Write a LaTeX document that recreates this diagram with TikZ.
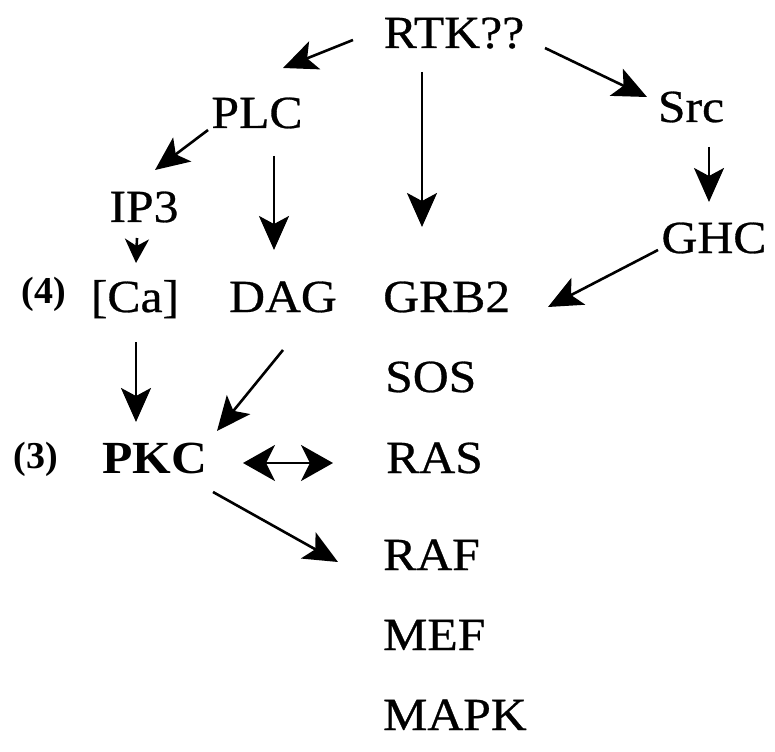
\documentclass[tikz,border=0pt]{standalone}
\usepackage{fontspec}
\usepackage{graphicx}
\setmainfont{Liberation Serif}
\newfontfamily\heavyfont{Liberation Serif}[FakeBold=0.6]
\usetikzlibrary{arrows.meta}
\newcommand\wide[1]{\scalebox{1.08}[1]{#1}}
\tikzset{
  lbl/.style={inner sep=0pt, font=\fontsize{46}{50}\heavyfont},
  num/.style={inner sep=0pt, font=\fontsize{38}{42}\selectfont\bfseries},
  arr/.style={line width=2.6pt, -{Stealth[length=34pt,width=30pt,inset=8pt]}},
  sarr/.style={line width=2.6pt, -{Stealth[length=24pt,width=24pt,inset=7pt]}},
  darr/.style={line width=2.6pt, {Stealth[length=32pt,width=36pt,inset=9pt]}-{Stealth[length=32pt,width=36pt,inset=9pt]}}
}
\begin{document}
\begin{tikzpicture}[x=1pt,y=-1pt]
\useasboundingbox (0,0) rectangle (775,751);
% nodes
\node[lbl,anchor=base] (RTK) at (454,48) {\wide{RTK??}};
\node[lbl,anchor=base] (PLC) at (257,128) {\wide{PLC}};
\node[lbl,anchor=base] (Src) at (691,122) {\wide{Src}};
\node[lbl,anchor=base] (IP3) at (144,222) {\wide{IP3}};
\node[lbl,anchor=base] (GHC) at (714,253) {\wide{GHC}};
\node[num,anchor=base] (n4) at (44,303) {(4)};
\node[lbl,anchor=base] (Ca) at (135,312) {\wide{[Ca]}};
\node[lbl,anchor=base] (DAG) at (283,312) {\wide{DAG}};
\node[lbl,anchor=base west] (GRB2) at (383,312) {\wide{GRB2}};
\node[lbl,anchor=base west] (SOS) at (385,392) {\wide{SOS}};
\node[num,anchor=base] (n3) at (36,468) {(3)};
\node[lbl,anchor=base] (PKC) at (155,473) {\wide{\fontsize{46}{50}\selectfont\rmfamily\bfseries PKC}};
\node[lbl,anchor=base west] (RAS) at (386,473) {\wide{RAS}};
\node[lbl,anchor=base west] (RAF) at (383,570) {\wide{RAF}};
\node[lbl,anchor=base west] (MEF) at (383,650) {\wide{MEF}};
\node[lbl,anchor=base west] (MAPK) at (383,730) {\wide{MAPK}};
% connectors
\draw[arr] ([shift={(-101,-8)}]RTK.base) -- ([shift={(26,-60)}]PLC.base);
\draw[arr] ([shift={(-49,2)}]PLC.base) -- ([shift={(11,-52)}]IP3.base);
\draw[arr] ([shift={(17,28)}]PLC.base) -- ([shift={(-9,-62)}]DAG.base);
\draw[sarr] ([shift={(-7,16)}]IP3.base) -- ([shift={(1,-49)}]Ca.base);
\draw[arr] ([shift={(-32,24)}]RTK.base) -- ([shift={(39,-85)}]GRB2.base west);
\draw[arr] ([shift={(91,0)}]RTK.base) -- ([shift={(-44,-25)}]Src.base);
\draw[arr] ([shift={(18,25)}]Src.base) -- ([shift={(-5,-51)}]GHC.base);
\draw[arr] ([shift={(-56,-3)}]GHC.base) -- ([shift={(165,-5)}]GRB2.base west);
\draw[arr] ([shift={(1,30)}]Ca.base) -- ([shift={(-19,-51)}]PKC.base);
\draw[arr] ([shift={(0,38)}]DAG.base) -- ([shift={(62,-42)}]PKC.base);
\draw[darr] ([shift={(88,-10)}]PKC.base) -- ([shift={(-53,-10)}]RAS.base west);
\draw[arr] ([shift={(58,19)}]PKC.base) -- ([shift={(-45,-8)}]RAF.base west);
\end{tikzpicture}
\end{document}
